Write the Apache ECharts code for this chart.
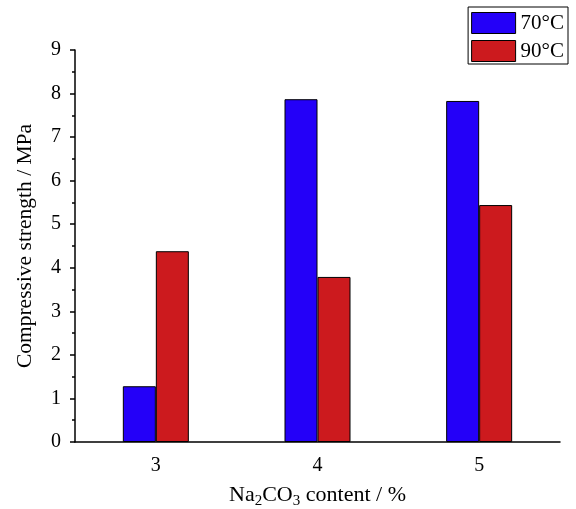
<!DOCTYPE html>
<html><head><meta charset="utf-8">
<script src="https://cdn.jsdelivr.net/npm/echarts@6/dist/echarts.min.js"></script>
<style>html,body{margin:0;padding:0;background:#fff}#c{width:576px;height:509px}</style>
</head><body><div id="c"></div>
<script>
const categories = ['3', '4', '5'];
const series70 = [1.28, 7.87, 7.83];
const series90 = [4.38, 3.79, 5.44];
const seriesNames = ['70°C', '90°C'];
const yTicks = [0, 1, 2, 3, 4, 5, 6, 7, 8, 9];

const font = 'Liberation Serif';
const chart = echarts.init(document.getElementById('c'));
chart.setOption({
  animation: false,
  backgroundColor: '#fff',
  textStyle: { fontFamily: font },
  grid: { left: 75, right: 16, top: 50, bottom: 67, outerBoundsMode: 'none', containLabel: false },
  legend: {
    right: 8, top: 7, orient: 'vertical', icon: 'rect',
    itemWidth: 44, itemHeight: 21, itemGap: 6,
    padding: [5, 4, 2, 3],
    borderColor: '#000', borderWidth: 1,
    textStyle: { fontFamily: font, fontSize: 21, color: '#000' },
    itemStyle: { borderColor: '#000', borderWidth: 1 },
    data: seriesNames
  },
  xAxis: [{
    type: 'category', data: categories,
    name: 'Na{s|2}CO{s|3} content / %', nameLocation: 'middle', nameGap: 40,
    nameTextStyle: { fontFamily: font, fontSize: 22, color: '#000', lineHeight: 27,
      rich: { s: { fontFamily: font, fontSize: 15, color: '#000', lineHeight: 15, verticalAlign: 'bottom' } } },
    axisLine: { lineStyle: { color: '#000', width: 1.5 } },
    axisTick: { alignWithLabel: true, length: 5, lineStyle: { color: '#000', width: 1.5 } },
    axisLabel: { fontFamily: font, fontSize: 20, color: '#000', margin: 14 },
    splitLine: { show: false }
  }, {
    type: 'category', data: categories, position: 'bottom',
    axisLine: { show: false },
    axisTick: { length: 4, lineStyle: { color: '#000', width: 1.5 } },
    axisLabel: { show: false }
  }],
  yAxis: {
    type: 'value', min: 0, max: 9, interval: 1,
    name: 'Compressive strength / MPa', nameLocation: 'middle', nameGap: 39,
    nameTextStyle: { fontFamily: font, fontSize: 21.5, color: '#000' },
    axisLine: { show: true, lineStyle: { color: '#000', width: 1.5 } },
    axisTick: { show: true, length: 5, lineStyle: { color: '#000', width: 1.5 } },
    minorTick: { show: true, splitNumber: 2, length: 3, lineStyle: { color: '#000', width: 1.5 } },
    axisLabel: { fontFamily: font, fontSize: 20, color: '#000', margin: 14,
      formatter: v => yTicks.includes(v) ? String(v) : '' },
    splitLine: { show: false }
  },
  series: [{
    name: seriesNames[0], type: 'bar', data: series70, barWidth: 33, barGap: '0%',
    itemStyle: { color: '#2400F8', borderColor: '#000', borderWidth: 1 }
  }, {
    name: seriesNames[1], type: 'bar', data: series90, barWidth: 33, barGap: '0%',
    itemStyle: { color: '#CC1A1E', borderColor: '#000', borderWidth: 1 }
  }]
});
</script></body></html>
